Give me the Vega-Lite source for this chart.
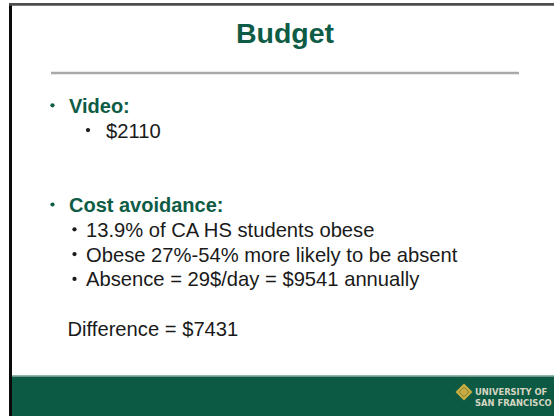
{
  "$schema": "https://vega.github.io/schema/vega-lite/v6.json",
  "width": 554,
  "height": 416,
  "autosize": {"type": "fit", "contains": "padding"},
  "padding": 0,
  "background": "white",
  "config": {"view": {"stroke": null}},
  "datasets": {
    "frame": [
      {"part": "leftBorder", "x": 9, "x2": 12, "y": 3, "y2": 416},
      {"part": "topBorder", "x": 9, "x2": 554, "y": 3, "y2": 5.8},
      {"part": "bandEdge", "x": 12, "x2": 554, "y": 375, "y2": 376.5},
      {"part": "band", "x": 12, "x2": 554, "y": 376.5, "y2": 416}
    ],
    "divider": [{"x": 51, "x2": 519, "y": 73}],
    "title": [{"text": "Budget", "x": 285, "y": 42.5}],
    "logoMark": [{"x": 464, "y": 392}],
    "logoText": [
      {"text": "UNIVERSITY OF", "x": 475, "y": 395},
      {"text": "SAN FRANCISCO", "x": 475, "y": 405.5}
    ],
    "body": [
      {"text": "Video:", "kind": "heading", "line": 0, "x": 69, "bx": 52.5},
      {"text": "$2110", "kind": "item", "line": 1, "x": 106, "bx": 88},
      {"text": "Cost avoidance:", "kind": "heading", "line": 4, "x": 69, "bx": 52.5},
      {"text": "13.9% of CA HS students obese", "kind": "item", "line": 5, "x": 86, "bx": 74.5},
      {"text": "Obese 27%-54% more likely to be absent", "kind": "item", "line": 6, "x": 86, "bx": 74.5},
      {"text": "Absence = 29$/day = $9541 annually", "kind": "item", "line": 7, "x": 86, "bx": 74.5},
      {"text": "Difference = $7431", "kind": "plain", "line": 9, "x": 67.5}
    ]
  },
  "resolve": {"scale": {"y": "independent", "color": "independent"}},
  "layer": [
    {
      "data": {"name": "frame"},
      "mark": {"type": "rect"},
      "encoding": {
        "x": {"field": "x", "type": "quantitative", "scale": {"domain": [0, 554], "nice": false, "zero": false}, "axis": null},
        "x2": {"field": "x2"},
        "y": {"field": "y", "type": "quantitative", "scale": {"domain": [0, 416], "nice": false, "zero": false, "reverse": true}, "axis": null},
        "y2": {"field": "y2"},
        "color": {"field": "part", "type": "nominal", "legend": null,
          "scale": {"domain": ["leftBorder", "topBorder", "bandEdge", "band"], "range": ["#0a0a0a", "#4d4d4d", "#8fb8a6", "#0c5a43"]}}
      }
    },
    {
      "data": {"name": "divider"},
      "mark": {"type": "rule", "color": "#a9a9a9", "strokeWidth": 2.5},
      "encoding": {
        "x": {"field": "x", "type": "quantitative", "scale": {"domain": [0, 554], "nice": false, "zero": false}, "axis": null},
        "x2": {"field": "x2"},
        "y": {"field": "y", "type": "quantitative", "scale": {"domain": [0, 416], "nice": false, "zero": false, "reverse": true}, "axis": null}
      }
    },
    {
      "data": {"name": "title"},
      "mark": {"type": "text", "font": "Liberation Sans", "fontWeight": "bold", "fontSize": 28.5, "color": "#0e5c45", "align": "center", "baseline": "alphabetic"},
      "encoding": {
        "x": {"field": "x", "type": "quantitative", "scale": {"domain": [0, 554], "nice": false, "zero": false}, "axis": null},
        "y": {"field": "y", "type": "quantitative", "scale": {"domain": [0, 416], "nice": false, "zero": false, "reverse": true}, "axis": null},
        "text": {"field": "text"}
      }
    },
    {
      "data": {"name": "logoMark"},
      "mark": {"type": "point", "shape": "diamond", "filled": true, "size": 290, "color": "#c8ae42", "opacity": 1},
      "encoding": {
        "x": {"field": "x", "type": "quantitative", "scale": {"domain": [0, 554], "nice": false, "zero": false}, "axis": null},
        "y": {"field": "y", "type": "quantitative", "scale": {"domain": [0, 416], "nice": false, "zero": false, "reverse": true}, "axis": null}
      }
    },
    {
      "data": {"name": "logoMark"},
      "mark": {"type": "point", "shape": "diamond", "filled": false, "size": 90, "color": "#8c7a2c", "strokeWidth": 1, "opacity": 1},
      "encoding": {
        "x": {"field": "x", "type": "quantitative", "scale": {"domain": [0, 554], "nice": false, "zero": false}, "axis": null},
        "y": {"field": "y", "type": "quantitative", "scale": {"domain": [0, 416], "nice": false, "zero": false, "reverse": true}, "axis": null}
      }
    },
    {
      "data": {"name": "logoText"},
      "mark": {"type": "text", "font": "DejaVu Sans", "fontWeight": "bold", "fontSize": 8.4, "color": "#d6d5c2", "align": "left", "baseline": "alphabetic"},
      "encoding": {
        "x": {"field": "x", "type": "quantitative", "scale": {"domain": [0, 554], "nice": false, "zero": false}, "axis": null},
        "y": {"field": "y", "type": "quantitative", "scale": {"domain": [0, 416], "nice": false, "zero": false, "reverse": true}, "axis": null},
        "text": {"field": "text"}
      }
    },
    {
      "data": {"name": "body"},
      "transform": [{"filter": "datum.kind !== 'plain'"}],
      "mark": {"type": "point", "shape": "circle", "filled": true, "size": 18, "opacity": 1, "yOffset": -7.5},
      "encoding": {
        "x": {"field": "bx", "type": "quantitative", "scale": {"domain": [0, 554], "nice": false, "zero": false}, "axis": null},
        "y": {"field": "line", "type": "quantitative", "scale": {"domain": [0, 9], "range": [112.8, 336], "nice": false, "zero": false}, "axis": null},
        "color": {"field": "kind", "type": "nominal", "legend": null,
          "scale": {"domain": ["heading", "item", "plain"], "range": ["#0e5c45", "#1a1a1a", "#1a1a1a"]}}
      }
    },
    {
      "data": {"name": "body"},
      "transform": [{"filter": "datum.kind === 'heading'"}],
      "mark": {"type": "text", "font": "Liberation Sans", "fontWeight": "bold", "fontSize": 20, "align": "left", "baseline": "alphabetic"},
      "encoding": {
        "x": {"field": "x", "type": "quantitative", "scale": {"domain": [0, 554], "nice": false, "zero": false}, "axis": null},
        "y": {"field": "line", "type": "quantitative", "scale": {"domain": [0, 9], "range": [112.8, 336], "nice": false, "zero": false}, "axis": null},
        "text": {"field": "text"},
        "color": {"field": "kind", "type": "nominal", "legend": null,
          "scale": {"domain": ["heading", "item", "plain"], "range": ["#0e5c45", "#1a1a1a", "#1a1a1a"]}}
      }
    },
    {
      "data": {"name": "body"},
      "transform": [{"filter": "datum.kind !== 'heading'"}],
      "mark": {"type": "text", "font": "Liberation Sans", "fontSize": 20.2, "align": "left", "baseline": "alphabetic"},
      "encoding": {
        "x": {"field": "x", "type": "quantitative", "scale": {"domain": [0, 554], "nice": false, "zero": false}, "axis": null},
        "y": {"field": "line", "type": "quantitative", "scale": {"domain": [0, 9], "range": [112.8, 336], "nice": false, "zero": false}, "axis": null},
        "text": {"field": "text"},
        "color": {"field": "kind", "type": "nominal", "legend": null,
          "scale": {"domain": ["heading", "item", "plain"], "range": ["#0e5c45", "#1a1a1a", "#1a1a1a"]}}
      }
    }
  ]
}
